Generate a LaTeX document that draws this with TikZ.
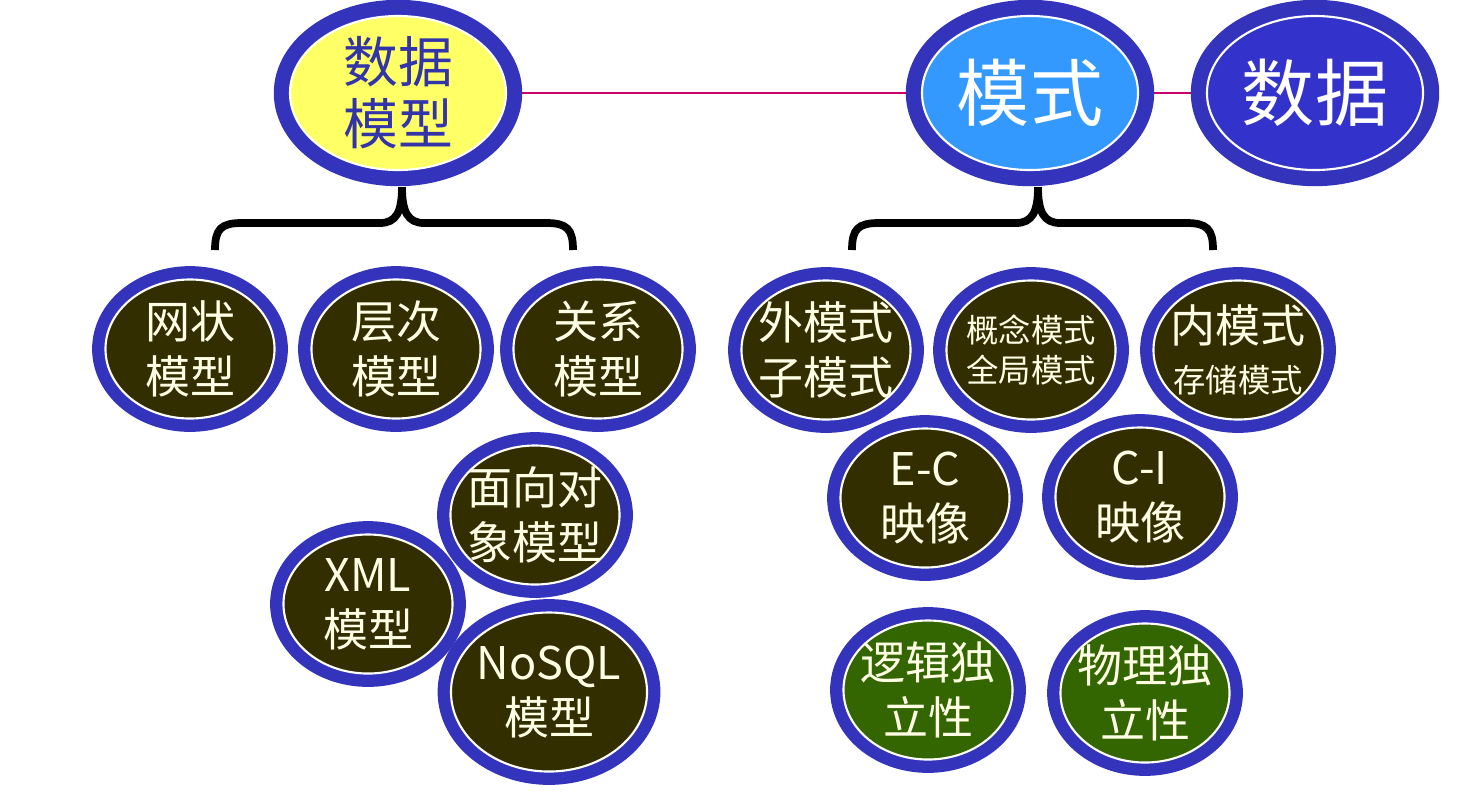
\documentclass[tikz,border=0pt]{standalone}
\usepackage{fontspec}
\setmainfont{Noto Sans CJK SC}
\usetikzlibrary{shapes.geometric, calc, backgrounds}
\definecolor{ringblue}{RGB}{51,51,187}
\definecolor{nodebrown}{RGB}{51,46,0}
\definecolor{nodegreen}{RGB}{51,102,0}
\definecolor{hiyellow}{RGB}{255,255,102}
\definecolor{schemablue}{RGB}{51,153,255}
\definecolor{datablue}{RGB}{51,51,204}
\definecolor{titleblue}{RGB}{51,51,170}
\definecolor{linkpink}{RGB}{204,0,102}
\definecolor{cream}{RGB}{255,255,230}

\begin{document}
\begin{tikzpicture}[x=0.025cm, y=-0.025cm,
  every node/.style={ellipse, inner sep=-30pt, align=center, text=cream,
    font=\fontsize{32pt}{39pt}\selectfont},
  ring/.style={draw=white, line width=1.5pt, preaction={draw=ringblue, line width=#1}},
  ring/.default=19pt,
  top/.style={ring=23pt, minimum width=5.4cm, minimum height=3.85cm},
  leaf/.style={ring, fill=nodebrown, minimum width=4.225cm, minimum height=3.475cm},
  indep/.style={leaf, fill=nodegreen},
  link/.style={linkpink, line width=1.2pt},
  brace/.style={black, line width=5.5pt},
]
  \useasboundingbox (0,0) rectangle (1478,798);

  % top row
  \node[top, fill=hiyellow, text=titleblue, font=\fontsize{39pt}{44pt}\selectfont] (dm) at (398,93) {数据\\模型};
  \node[top, fill=schemablue, text=white, font=\fontsize{52pt}{60pt}\selectfont] (ms) at (1030,93) {模式};
  \node[top, fill=datablue, text=white, font=\fontsize{52pt}{60pt}\selectfont] (sj) at (1315,93) {数据};

  \begin{scope}[on background layer]
    \draw[link] (dm) -- (ms);
    \draw[link] (ms) -- (sj);
  \end{scope}

  % data models
  \node[leaf] (wz) at (190,349) {网状\\模型};
  \node[leaf] (cc) at (396,349) {层次\\模型};
  \node[leaf] (gx) at (598,349) {关系\\模型};
  \node[leaf] (oo) at (535,515) {面向对\\象模型};
  \node[leaf] (xml) at (368,604) {XML\\模型};
  \node[leaf, minimum width=4.9cm, minimum height=3.975cm] (nosql) at (549,692) {NoSQL\\模型};

  % schemas
  \node[leaf] (wms) at (826,350) {外模式\\子模式};
  \node[leaf, font=\fontsize{23pt}{29pt}\selectfont] (gn) at (1031,350) {概念模式\\全局模式};
  \node[leaf] (nms) at (1238,350) {内模式\\[-4pt]{\fontsize{23pt}{29pt}\selectfont 存储模式}};
  \node[leaf] (ec) at (925,498) {E-C\\映像};
  \node[leaf] (ci) at (1140,497) {C-I\\映像};
  \node[indep] (lj) at (928,690) {逻辑独\\立性};
  \node[indep] (wl) at (1145,693) {物理独\\立性};

  % braces
  \coordinate (ltip) at ($(dm.south)+(4,16)$);
  \coordinate (lbl) at (215,250);
  \coordinate (lbr) at (573,250);
  \draw[brace] (lbl) .. controls (215,229) and (221,223) .. (242,223) -- (380,223)
    .. controls (396,223) and (402,212) .. (ltip) .. controls (402,212) and (408,223) .. (424,223)
    -- (546,223) .. controls (567,223) and (573,229) .. (lbr);

  \coordinate (rtip) at ($(ms.south)+(8,16)$);
  \coordinate (rbl) at (852,250);
  \coordinate (rbr) at (1213,250);
  \draw[brace] (rbl) .. controls (852,229) and (858,223) .. (879,223) -- (1016,223)
    .. controls (1032,223) and (1038,212) .. (rtip) .. controls (1038,212) and (1044,223) .. (1060,223)
    -- (1186,223) .. controls (1207,223) and (1213,229) .. (rbr);
\end{tikzpicture}
\end{document}
